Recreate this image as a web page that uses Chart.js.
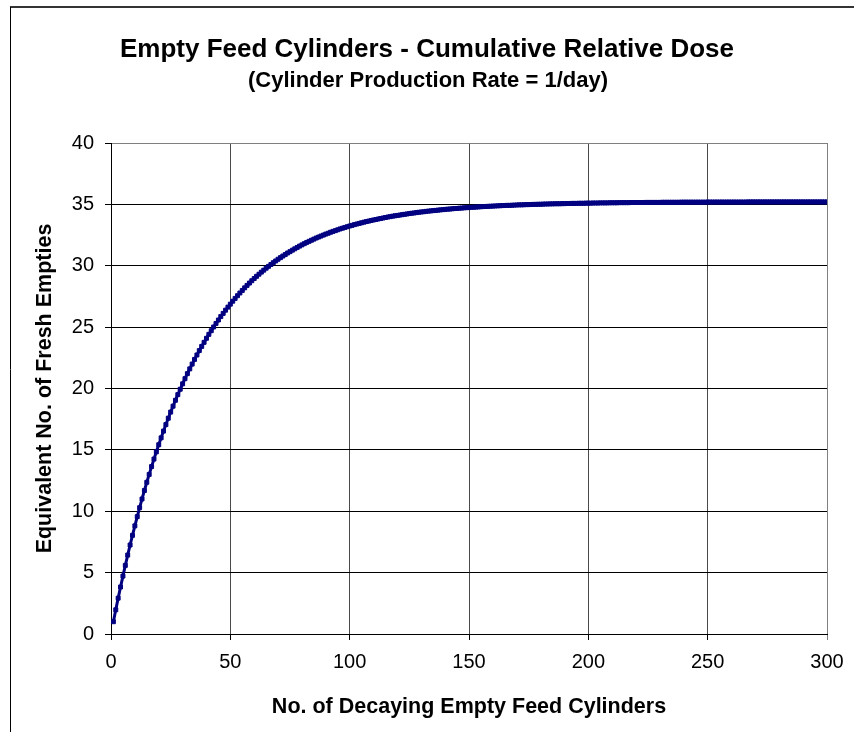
<!DOCTYPE html>
<html>
<head>
<meta charset="utf-8">
<title>Empty Feed Cylinders - Cumulative Relative Dose</title>
<script src="https://cdn.jsdelivr.net/npm/chart.js@4/dist/chart.umd.min.js"></script>
<style>
  html, body { margin: 0; padding: 0; background: #fff; }
  canvas { display: block; }
</style>
</head>
<body>
<canvas id="dose" width="854" height="732"></canvas>
<script>
// Equivalent number of fresh empties for 1..300 decaying empty feed cylinders
const dose001to050 = [
  1.00, 1.97, 2.92, 3.83, 4.72, 5.59, 6.43, 7.25, 8.04, 8.81,
  9.56, 10.29, 11.00, 11.69, 12.36, 13.00, 13.64, 14.25, 14.84, 15.42,
  15.98, 16.53, 17.06, 17.58, 18.08, 18.56, 19.04, 19.50, 19.94, 20.38,
  20.80, 21.21, 21.60, 21.99, 22.37, 22.73, 23.09, 23.43, 23.76, 24.09,
  24.41, 24.71, 25.01, 25.30, 25.58, 25.86, 26.12, 26.38, 26.63, 26.87
];
const dose051to100 = [
  27.11, 27.34, 27.56, 27.78, 27.99, 28.20, 28.40, 28.59, 28.78, 28.96,
  29.14, 29.31, 29.48, 29.64, 29.80, 29.95, 30.10, 30.25, 30.39, 30.53,
  30.66, 30.79, 30.91, 31.04, 31.15, 31.27, 31.38, 31.49, 31.60, 31.70,
  31.80, 31.90, 31.99, 32.08, 32.17, 32.26, 32.34, 32.42, 32.50, 32.58,
  32.65, 32.73, 32.80, 32.86, 32.93, 33.00, 33.06, 33.12, 33.18, 33.24
];
const dose101to150 = [
  33.29, 33.35, 33.40, 33.45, 33.50, 33.55, 33.60, 33.64, 33.69, 33.73,
  33.77, 33.81, 33.85, 33.89, 33.93, 33.97, 34.00, 34.04, 34.07, 34.10,
  34.13, 34.16, 34.19, 34.22, 34.25, 34.28, 34.30, 34.33, 34.36, 34.38,
  34.40, 34.43, 34.45, 34.47, 34.49, 34.51, 34.53, 34.55, 34.57, 34.59,
  34.61, 34.62, 34.64, 34.66, 34.67, 34.69, 34.70, 34.72, 34.73, 34.74
];
const dose151to200 = [
  34.76, 34.77, 34.78, 34.79, 34.81, 34.82, 34.83, 34.84, 34.85, 34.86,
  34.87, 34.88, 34.89, 34.90, 34.91, 34.92, 34.92, 34.93, 34.94, 34.95,
  34.96, 34.96, 34.97, 34.98, 34.98, 34.99, 35.00, 35.00, 35.01, 35.01,
  35.02, 35.03, 35.03, 35.04, 35.04, 35.05, 35.05, 35.05, 35.06, 35.06,
  35.07, 35.07, 35.08, 35.08, 35.08, 35.09, 35.09, 35.09, 35.10, 35.10
];
const dose201to250 = [
  35.10, 35.11, 35.11, 35.11, 35.12, 35.12, 35.12, 35.12, 35.13, 35.13,
  35.13, 35.13, 35.14, 35.14, 35.14, 35.14, 35.14, 35.15, 35.15, 35.15,
  35.15, 35.15, 35.15, 35.16, 35.16, 35.16, 35.16, 35.16, 35.16, 35.16,
  35.17, 35.17, 35.17, 35.17, 35.17, 35.17, 35.17, 35.17, 35.18, 35.18,
  35.18, 35.18, 35.18, 35.18, 35.18, 35.18, 35.18, 35.18, 35.18, 35.19
];
const dose251to300 = [
  35.19, 35.19, 35.19, 35.19, 35.19, 35.19, 35.19, 35.19, 35.19, 35.19,
  35.19, 35.19, 35.19, 35.19, 35.19, 35.19, 35.20, 35.20, 35.20, 35.20,
  35.20, 35.20, 35.20, 35.20, 35.20, 35.20, 35.20, 35.20, 35.20, 35.20,
  35.20, 35.20, 35.20, 35.20, 35.20, 35.20, 35.20, 35.20, 35.20, 35.20,
  35.20, 35.20, 35.20, 35.20, 35.20, 35.20, 35.20, 35.20, 35.20, 35.20
];

const xTicks = [0, 50, 100, 150, 200, 250, 300];
const yTicks = [0, 5, 10, 15, 20, 25, 30, 35, 40];

const titleText = 'Empty Feed Cylinders - Cumulative Relative Dose';
const subtitleText = '(Cylinder Production Rate = 1/day)';
const xTitle = 'No. of Decaying Empty Feed Cylinders';
const yTitle = 'Equivalent No. of Fresh Empties';

const dose = [].concat(dose001to050, dose051to100, dose101to150,
                       dose151to200, dose201to250, dose251to300);
// cylinder count runs 1, 2, 3, ... alongside the dose values
const points = dose.map((v, i) => ({ x: i + 1, y: v }));

const FONT = "'Liberation Sans', Arial, Helvetica, sans-serif";
const NAVY = '#000080';

// Chart frame and the two-line heading
const frameAndHeading = {
  id: 'frameAndHeading',
  beforeDraw(chart) {
    const ctx = chart.ctx;
    ctx.save();
    ctx.fillStyle = '#fff';
    ctx.fillRect(0, 0, chart.width, chart.height);
    ctx.strokeStyle = '#333';
    ctx.lineWidth = 2;
    ctx.beginPath();
    ctx.moveTo(10, 7);
    ctx.lineTo(chart.width, 7);
    ctx.stroke();
    ctx.strokeStyle = '#000';
    ctx.lineWidth = 1;
    ctx.beginPath();
    ctx.moveTo(10.5, 7);
    ctx.lineTo(10.5, chart.height);
    ctx.stroke();
    ctx.restore();
  },
  afterDraw(chart) {
    const ctx = chart.ctx;
    ctx.save();
    ctx.fillStyle = '#000';
    ctx.textAlign = 'center';
    ctx.textBaseline = 'middle';
    ctx.font = 'bold 26px ' + FONT;
    ctx.fillText(titleText, 427, 50);
    ctx.font = 'bold 22px ' + FONT;
    ctx.fillText(subtitleText, 428, 81);
    ctx.restore();
  }
};

new Chart(document.getElementById('dose'), {
  type: 'scatter',
  data: {
    datasets: [{
      data: points,
      showLine: true,
      borderColor: NAVY,
      borderWidth: 3,
      backgroundColor: NAVY,
      pointStyle: 'rect',
      pointRadius: 2.8,
      pointBorderWidth: 1,
      pointBorderColor: NAVY,
      pointBackgroundColor: NAVY,
      tension: 0
    }]
  },
  options: {
    responsive: false,
    animation: false,
    events: [],
    layout: { padding: { left: 0, top: 143, right: 27, bottom: 0 } },
    plugins: {
      legend: { display: false },
      tooltip: { enabled: false },
      title: { display: false }
    },
    scales: {
      x: {
        type: 'linear',
        min: xTicks[0],
        max: xTicks[xTicks.length - 1],
        afterBuildTicks: s => { s.ticks = xTicks.map(v => ({ value: v })); },
        afterFit: s => { s.height = 98; },
        border: { display: true, color: '#000', width: 1 },
        grid: {
          color: c => (c.tick && c.tick.value === 300) ? '#808080' : '#4a4a4a',
          tickColor: c => (c.tick && c.tick.value === 300) ? '#808080' : '#000',
          lineWidth: 1,
          drawTicks: true,
          tickLength: 6
        },
        ticks: {
          color: '#000',
          padding: 10,
          maxRotation: 0,
          autoSkip: false,
          font: { family: FONT, size: 20 }
        },
        title: {
          display: true,
          text: xTitle,
          color: '#000',
          font: { family: FONT, size: 21.5, weight: 'bold' },
          padding: { top: 0, bottom: 12 }
        }
      },
      y: {
        type: 'linear',
        min: yTicks[0],
        max: yTicks[yTicks.length - 1],
        afterBuildTicks: s => { s.ticks = yTicks.map(v => ({ value: v })); },
        afterFit: s => { s.width = 111; },
        border: { display: true, color: '#000', width: 1 },
        grid: {
          color: c => (c.tick && c.tick.value === 40) ? '#808080' : '#000',
          tickColor: '#000',
          lineWidth: 1,
          drawTicks: true,
          tickLength: 6
        },
        ticks: {
          color: '#000',
          padding: 11,
          autoSkip: false,
          font: { family: FONT, size: 20 }
        },
        title: {
          display: true,
          text: yTitle,
          color: '#000',
          font: { family: FONT, size: 21.5, weight: 'bold' },
          padding: { top: 32, bottom: 0 }
        }
      }
    }
  },
  plugins: [frameAndHeading]
});
</script>
</body>
</html>
